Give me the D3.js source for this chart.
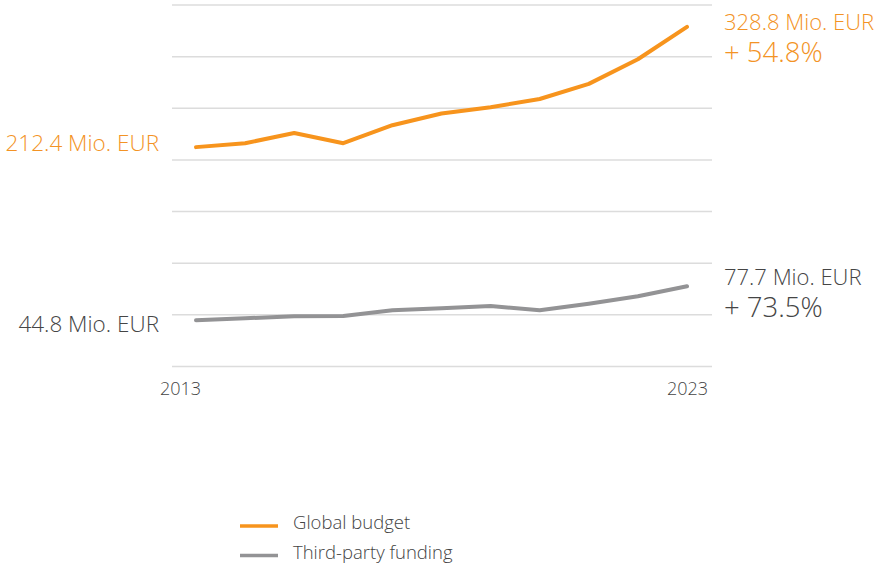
<!DOCTYPE html>
<html>
<head>
<meta charset="utf-8">
<script src="https://cdn.jsdelivr.net/npm/d3@7"></script>
<style>
  body { margin: 0; background: #fff; font-family: "Open Sans", sans-serif; font-weight: 350; }
  .grid line { stroke: #dcdcdc; stroke-width: 1.5; }
  .tick-label { font-size: 18px; fill: #444; }
  .legend-label { font-size: 18.5px; fill: #444; }
</style>
</head>
<body>
<div id="chart"></div>
<script>
const years = [2013, 2014, 2015, 2016, 2017, 2018, 2019, 2020, 2021, 2022, 2023];
const globalBudget = [212.4, 216.2, 226.0, 216.2, 233.6, 245.0, 251.0, 259.0, 273.6, 297.5, 328.8];
const thirdParty = [44.8, 46.7, 48.6, 48.9, 54.4, 56.3, 58.6, 54.4, 60.8, 68.0, 77.7];
const gridValues = [0, 50, 100, 150, 200, 250, 300, 350];
const tickYears = [2013, 2023];
const seriesNames = ["Global budget", "Third-party funding"];
const startLabels = ["212.4 Mio. EUR", "44.8 Mio. EUR"];
const endLabels = ["328.8 Mio. EUR", "77.7 Mio. EUR"];
const changeLabels = ["+ 54.8%", "+ 73.5%"];

const seriesColors = ["#f7941d", "#939395"];
const textColors = ["#f39325", "#454545"];
// label offsets (baseline relative to the line end points)
const labelLayout = [
    { start: 3.5, end: 3.5, change: 35 },
    { start: 12, end: -1, change: 30.5 }
];

const width = 880, height = 563;

const svg = d3.select("#chart")
    .append("svg")
    .attr("width", width)
    .attr("height", height);

const xScale = d3.scaleLinear()
    .domain([2013, 2023])
    .range([196, 687]);

const yScale = d3.scaleLinear()
    .domain([0, 350])
    .range([366.5, 5]);

// horizontal gridlines
svg.append("g")
    .attr("class", "grid")
    .selectAll("line")
    .data(gridValues)
    .join("line")
    .attr("x1", 172)
    .attr("x2", 712)
    .attr("y1", d => yScale(d))
    .attr("y2", d => yScale(d));

// year labels
svg.append("g")
    .selectAll("text")
    .data(tickYears)
    .join("text")
    .attr("class", "tick-label")
    .attr("x", (d, i) => i === 0 ? xScale(d) + 5 : xScale(d) + 21)
    .attr("y", 395)
    .attr("text-anchor", "end")
    .text(d => d);

const line = d3.line()
    .x((d, i) => xScale(years[i]))
    .y(d => yScale(d));

const series = [globalBudget, thirdParty];

series.forEach((values, s) => {
    svg.append("path")
        .datum(values)
        .attr("fill", "none")
        .attr("stroke", seriesColors[s])
        .attr("stroke-width", 4)
        .attr("stroke-linecap", "round")
        .attr("stroke-linejoin", "round")
        .attr("d", line);

    // start value label
    svg.append("text")
        .attr("x", 159)
        .attr("y", yScale(values[0]) + labelLayout[s].start)
        .attr("text-anchor", "end")
        .attr("font-size", 22.5)
        .attr("fill", textColors[s])
        .text(startLabels[s]);

    // end value + change
    const yEnd = yScale(values[values.length - 1]);
    svg.append("text")
        .attr("x", 724)
        .attr("y", yEnd + labelLayout[s].end)
        .attr("font-size", 22)
        .attr("fill", textColors[s])
        .text(endLabels[s]);
    svg.append("text")
        .attr("x", 724)
        .attr("y", yEnd + labelLayout[s].change)
        .attr("font-size", 27.5)
        .attr("fill", textColors[s])
        .text(changeLabels[s]);
});

// legend
const legend = svg.append("g")
    .attr("transform", "translate(240, 526)");

seriesNames.forEach((name, i) => {
    const g = legend.append("g").attr("transform", `translate(0, ${i * 29.5})`);
    g.append("line")
        .attr("x1", 0)
        .attr("x2", 38)
        .attr("stroke", seriesColors[i])
        .attr("stroke-width", 3.5);
    g.append("text")
        .attr("class", "legend-label")
        .attr("x", 53)
        .attr("y", 3)
        .text(name);
});
</script>
</body>
</html>
